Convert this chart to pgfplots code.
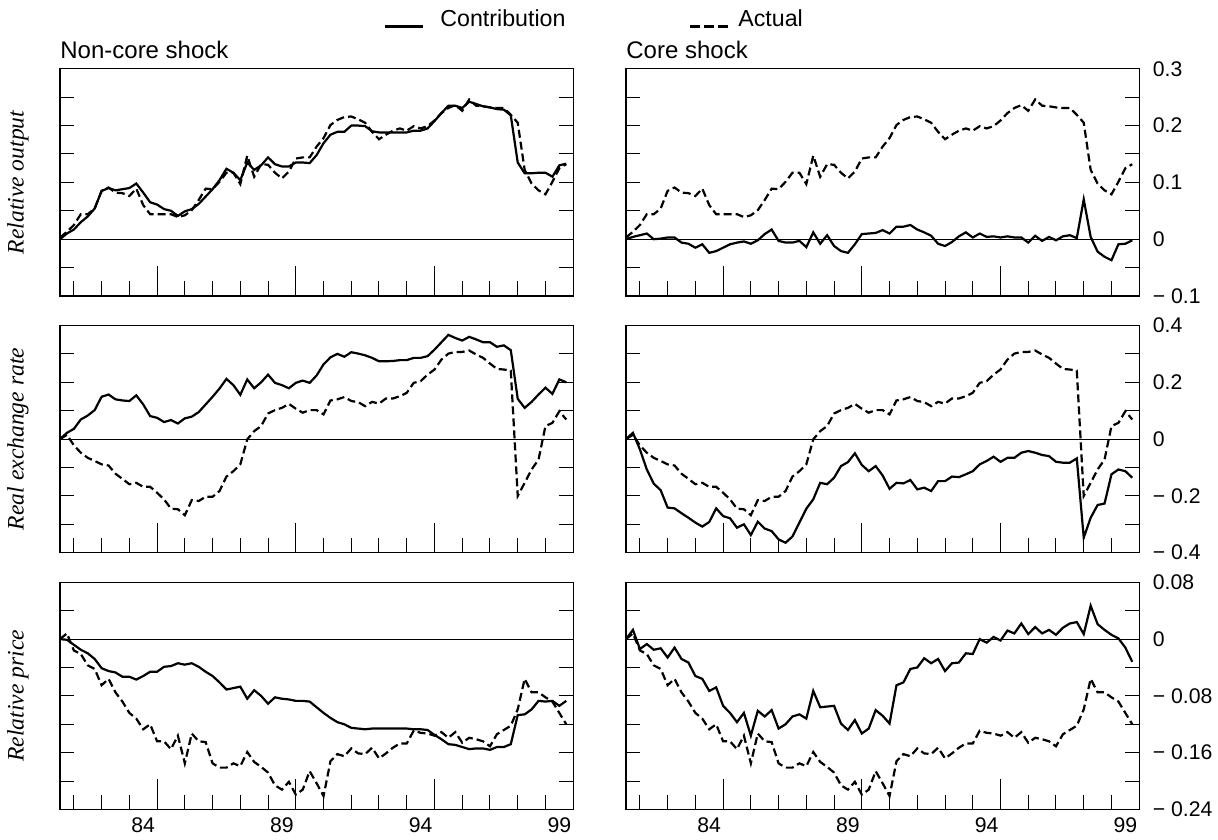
\documentclass[border=0pt]{standalone}
\usepackage{fontspec}
\setmainfont{Liberation Sans}
\newfontfamily\seriffont{Liberation Serif}
\usepackage{pgfplots}
\usepackage{pgfplotstable}
\pgfplotsset{compat=1.18}

% Relative output
\pgfplotstableread{
t nc c act
1981.50 0.000 0.000 0.003
1981.75 0.010 0.004 0.013
1982.00 0.017 0.007 0.025
1982.25 0.030 0.010 0.044
1982.50 0.040 0.000 0.044
1982.75 0.054 0.001 0.054
1983.00 0.085 0.003 0.085
1983.25 0.090 0.003 0.091
1983.50 0.086 -0.006 0.082
1983.75 0.088 -0.008 0.081
1984.00 0.090 -0.015 0.076
1984.25 0.098 -0.009 0.089
1984.50 0.082 -0.024 0.060
1984.75 0.065 -0.021 0.044
1985.00 0.061 -0.015 0.044
1985.25 0.053 -0.009 0.044
1985.50 0.050 -0.006 0.044
1985.75 0.041 -0.004 0.039
1986.00 0.049 -0.008 0.042
1986.25 0.053 -0.002 0.051
1986.50 0.062 0.009 0.069
1986.75 0.075 0.017 0.089
1987.00 0.088 -0.003 0.088
1987.25 0.104 -0.006 0.101
1987.50 0.124 -0.006 0.117
1987.75 0.117 -0.003 0.117
1988.00 0.104 -0.014 0.097
1988.25 0.135 0.012 0.147
1988.50 0.122 -0.008 0.110
1988.75 0.130 0.007 0.132
1989.00 0.144 -0.012 0.131
1989.25 0.132 -0.021 0.117
1989.50 0.128 -0.024 0.107
1989.75 0.128 -0.009 0.119
1990.00 0.135 0.009 0.142
1990.25 0.135 0.010 0.144
1990.50 0.134 0.011 0.144
1990.75 0.148 0.016 0.163
1991.00 0.169 0.010 0.178
1991.25 0.184 0.022 0.201
1991.50 0.189 0.022 0.210
1991.75 0.189 0.025 0.215
1992.00 0.200 0.017 0.216
1992.25 0.200 0.012 0.211
1992.50 0.199 0.006 0.205
1992.75 0.190 -0.008 0.189
1993.00 0.188 -0.012 0.176
1993.25 0.188 -0.005 0.184
1993.50 0.188 0.005 0.191
1993.75 0.188 0.012 0.195
1994.00 0.188 0.003 0.191
1994.25 0.191 0.010 0.199
1994.50 0.191 0.004 0.195
1994.75 0.195 0.005 0.199
1995.00 0.208 0.003 0.209
1995.25 0.222 0.005 0.222
1995.50 0.235 0.003 0.231
1995.75 0.235 0.003 0.236
1996.00 0.231 -0.006 0.226
1996.25 0.242 0.006 0.246
1996.50 0.238 -0.003 0.235
1996.75 0.234 0.004 0.234
1997.00 0.232 -0.002 0.232
1997.25 0.229 0.005 0.231
1997.50 0.228 0.007 0.231
1997.75 0.218 0.002 0.219
1998.00 0.135 0.070 0.205
1998.25 0.116 0.004 0.122
1998.50 0.116 -0.022 0.098
1998.75 0.117 -0.031 0.086
1999.00 0.117 -0.037 0.079
1999.25 0.110 -0.009 0.101
1999.50 0.130 -0.008 0.125
1999.75 0.133 -0.002 0.132
}\rowA

% Real exchange rate
\pgfplotstableread{
t nc c act
1981.50 0.000 0.000 0.000
1981.75 0.022 0.022 0.015
1982.00 0.036 -0.036 -0.022
1982.25 0.069 -0.107 -0.048
1982.50 0.083 -0.157 -0.066
1982.75 0.102 -0.180 -0.077
1983.00 0.149 -0.241 -0.089
1983.25 0.157 -0.244 -0.093
1983.50 0.140 -0.261 -0.122
1983.75 0.136 -0.277 -0.140
1984.00 0.134 -0.294 -0.159
1984.25 0.154 -0.308 -0.154
1984.50 0.122 -0.292 -0.168
1984.75 0.081 -0.244 -0.168
1985.00 0.075 -0.271 -0.189
1985.25 0.060 -0.279 -0.212
1985.50 0.067 -0.312 -0.245
1985.75 0.055 -0.300 -0.247
1986.00 0.073 -0.338 -0.268
1986.25 0.079 -0.291 -0.215
1986.50 0.095 -0.315 -0.218
1986.75 0.122 -0.324 -0.203
1987.00 0.149 -0.353 -0.203
1987.25 0.178 -0.365 -0.183
1987.50 0.212 -0.343 -0.132
1987.75 0.190 -0.294 -0.113
1988.00 0.156 -0.245 -0.089
1988.25 0.210 -0.212 -0.001
1988.50 0.179 -0.154 0.028
1988.75 0.200 -0.159 0.046
1989.00 0.227 -0.136 0.090
1989.25 0.198 -0.095 0.102
1989.50 0.190 -0.081 0.110
1989.75 0.179 -0.050 0.124
1990.00 0.198 -0.091 0.107
1990.25 0.206 -0.113 0.093
1990.50 0.198 -0.095 0.102
1990.75 0.224 -0.128 0.102
1991.00 0.263 -0.175 0.087
1991.25 0.288 -0.154 0.136
1991.50 0.300 -0.156 0.140
1991.75 0.290 -0.144 0.148
1992.00 0.306 -0.177 0.134
1992.25 0.301 -0.171 0.130
1992.50 0.295 -0.183 0.116
1992.75 0.286 -0.148 0.131
1993.00 0.274 -0.148 0.125
1993.25 0.274 -0.132 0.143
1993.50 0.275 -0.134 0.143
1993.75 0.278 -0.124 0.151
1994.00 0.278 -0.113 0.163
1994.25 0.286 -0.089 0.198
1994.50 0.286 -0.077 0.204
1994.75 0.292 -0.062 0.227
1995.00 0.315 -0.080 0.245
1995.25 0.341 -0.066 0.280
1995.50 0.367 -0.066 0.301
1995.75 0.356 -0.048 0.307
1996.00 0.347 -0.042 0.307
1996.25 0.360 -0.048 0.312
1996.50 0.351 -0.056 0.298
1996.75 0.341 -0.060 0.286
1997.00 0.341 -0.080 0.266
1997.25 0.325 -0.083 0.247
1997.50 0.330 -0.083 0.245
1997.75 0.313 -0.068 0.241
1998.00 0.142 -0.347 -0.200
1998.25 0.110 -0.277 -0.154
1998.50 0.131 -0.232 -0.107
1998.75 0.157 -0.227 -0.072
1999.00 0.181 -0.124 0.046
1999.25 0.159 -0.107 0.057
1999.50 0.210 -0.113 0.098
1999.75 0.200 -0.136 0.069
}\rowB

% Relative price
\pgfplotstableread{
t nc c act
1981.50 0.000 0.000 0.000
1981.75 -0.001 0.013 0.008
1982.00 -0.008 -0.014 -0.016
1982.25 -0.015 -0.007 -0.021
1982.50 -0.020 -0.015 -0.037
1982.75 -0.028 -0.013 -0.042
1983.00 -0.041 -0.026 -0.065
1983.25 -0.045 -0.012 -0.056
1983.50 -0.047 -0.028 -0.075
1983.75 -0.053 -0.033 -0.088
1984.00 -0.053 -0.052 -0.104
1984.25 -0.057 -0.056 -0.112
1984.50 -0.052 -0.073 -0.127
1984.75 -0.046 -0.068 -0.120
1985.00 -0.046 -0.094 -0.144
1985.25 -0.039 -0.104 -0.144
1985.50 -0.038 -0.117 -0.155
1985.75 -0.034 -0.104 -0.136
1986.00 -0.036 -0.136 -0.175
1986.25 -0.034 -0.101 -0.133
1986.50 -0.039 -0.109 -0.144
1986.75 -0.046 -0.100 -0.145
1987.00 -0.052 -0.126 -0.175
1987.25 -0.061 -0.120 -0.181
1987.50 -0.071 -0.109 -0.181
1987.75 -0.069 -0.106 -0.175
1988.00 -0.067 -0.112 -0.179
1988.25 -0.084 -0.073 -0.159
1988.50 -0.072 -0.096 -0.173
1988.75 -0.080 -0.095 -0.180
1989.00 -0.091 -0.094 -0.188
1989.25 -0.082 -0.119 -0.206
1989.50 -0.084 -0.128 -0.212
1989.75 -0.085 -0.114 -0.201
1990.00 -0.087 -0.133 -0.219
1990.25 -0.087 -0.126 -0.212
1990.50 -0.088 -0.100 -0.186
1990.75 -0.096 -0.108 -0.203
1991.00 -0.104 -0.119 -0.221
1991.25 -0.111 -0.065 -0.172
1991.50 -0.117 -0.061 -0.162
1991.75 -0.120 -0.042 -0.165
1992.00 -0.125 -0.040 -0.154
1992.25 -0.126 -0.027 -0.161
1992.50 -0.127 -0.034 -0.162
1992.75 -0.126 -0.028 -0.153
1993.00 -0.126 -0.045 -0.168
1993.25 -0.126 -0.034 -0.161
1993.50 -0.126 -0.033 -0.153
1993.75 -0.126 -0.020 -0.147
1994.00 -0.126 -0.021 -0.147
1994.25 -0.127 0.000 -0.129
1994.50 -0.127 -0.005 -0.132
1994.75 -0.128 0.003 -0.133
1995.00 -0.135 -0.002 -0.136
1995.25 -0.141 0.012 -0.131
1995.50 -0.148 0.008 -0.139
1995.75 -0.149 0.022 -0.131
1996.00 -0.152 0.007 -0.146
1996.25 -0.155 0.017 -0.139
1996.50 -0.154 0.008 -0.141
1996.75 -0.154 0.013 -0.144
1997.00 -0.156 0.006 -0.151
1997.25 -0.152 0.016 -0.134
1997.50 -0.152 0.022 -0.128
1997.75 -0.148 0.024 -0.122
1998.00 -0.107 0.007 -0.099
1998.25 -0.106 0.047 -0.056
1998.50 -0.099 0.021 -0.075
1998.75 -0.087 0.013 -0.075
1999.00 -0.088 0.006 -0.082
1999.25 -0.087 0.001 -0.088
1999.50 -0.094 -0.012 -0.104
1999.75 -0.087 -0.032 -0.120
}\rowC

\tikzset{
  solid line/.style={line width=1.1pt, black},
  dashed line/.style={line width=1.1pt, black, dash pattern=on 4pt off 2pt},
  legend dashed/.style={line width=1.1pt, black, dash pattern=on 5pt off 2pt},
  zero line/.style={line width=0.5pt, black},
}

\pgfplotsset{
  panel/.style={
    scale only axis, width=256.6pt, height=113.6pt,
    anchor=south west,
    xmin=1981.5, xmax=2000,
    axis line style={line width=0.7pt},
    tick style={line width=0.5pt, black},
    tick align=inside,
    major tick length=7.25pt,
    xtick={1982,...,1999},
    xtick pos=bottom,
    ytick pos=both,
    xticklabel=\empty,
    yticklabel=\empty,
    extra x ticks={1985,1990,1995},
    extra x tick labels={{},{},{}},
    extra x tick style={major tick length=15pt},
    xticklabel style={anchor=north, inner sep=0pt, yshift=-3.8pt, xshift=6.94pt, font=\fontsize{10.6}{12}\selectfont},
    yticklabel style={anchor=west, inner sep=0pt, xshift=6.6pt, font=\fontsize{10.6}{12}\selectfont},
    clip=true,
  },
  rightcol/.style={yticklabel pos=right},
  bottomrow/.style={xticklabels={,,84,,,,,89,,,,,94,,,,,99}},
}

\begin{document}
\begin{tikzpicture}
\path[use as bounding box] (0,0) rectangle (609pt,419.5pt);

% Row 1: Relative output
\begin{axis}[panel, at={(30pt,271.5pt)}, ymin=-0.1, ymax=0.3,
  ytick={-0.1,-0.05,0,0.05,0.1,0.15,0.2,0.25,0.3}]
\addplot[zero line] coordinates {(1981.5,0) (2000,0)};
\addplot[dashed line] table[x=t, y=act] {\rowA};
\addplot[solid line] table[x=t, y=nc] {\rowA};
\end{axis}
\begin{axis}[panel, rightcol, at={(313pt,271.5pt)}, ymin=-0.1, ymax=0.3,
  ytick={-0.1,-0.05,0,0.05,0.1,0.15,0.2,0.25,0.3},
  yticklabels={− 0.1,,0,,0.1,,0.2,,0.3}]
\addplot[zero line] coordinates {(1981.5,0) (2000,0)};
\addplot[dashed line] table[x=t, y=act] {\rowA};
\addplot[solid line] table[x=t, y=c] {\rowA};
\end{axis}

% Row 2: Real exchange rate
\begin{axis}[panel, at={(30pt,143.15pt)}, ymin=-0.4, ymax=0.4,
  ytick={-0.4,-0.3,-0.2,-0.1,0,0.1,0.2,0.3,0.4}]
\addplot[zero line] coordinates {(1981.5,0) (2000,0)};
\addplot[dashed line] table[x=t, y=act] {\rowB};
\addplot[solid line] table[x=t, y=nc] {\rowB};
\end{axis}
\begin{axis}[panel, rightcol, at={(313pt,143.15pt)}, ymin=-0.4, ymax=0.4,
  ytick={-0.4,-0.3,-0.2,-0.1,0,0.1,0.2,0.3,0.4},
  yticklabels={− 0.4,,− 0.2,,0,,0.2,,0.4}]
\addplot[zero line] coordinates {(1981.5,0) (2000,0)};
\addplot[dashed line] table[x=t, y=act] {\rowB};
\addplot[solid line] table[x=t, y=c] {\rowB};
\end{axis}

% Row 3: Relative price
\begin{axis}[panel, bottomrow, at={(30pt,14.75pt)}, ymin=-0.24, ymax=0.08,
  ytick={-0.24,-0.2,-0.16,-0.12,-0.08,-0.04,0,0.04,0.08}]
\addplot[zero line] coordinates {(1981.5,0) (2000,0)};
\addplot[dashed line] table[x=t, y=act] {\rowC};
\addplot[solid line] table[x=t, y=nc] {\rowC};
\end{axis}
\begin{axis}[panel, rightcol, bottomrow, at={(313pt,14.75pt)}, ymin=-0.24, ymax=0.08,
  ytick={-0.24,-0.2,-0.16,-0.12,-0.08,-0.04,0,0.04,0.08},
  yticklabels={− 0.24,,− 0.16,,− 0.08,,0,,0.08}]
\addplot[zero line] coordinates {(1981.5,0) (2000,0)};
\addplot[dashed line] table[x=t, y=act] {\rowC};
\addplot[solid line] table[x=t, y=c] {\rowC};
\end{axis}

% Titles
\node[anchor=base west, inner sep=0pt, font=\fontsize{12}{14}\selectfont] at (30pt,390.35pt) {Non-core shock};
\node[anchor=base west, inner sep=0pt, font=\fontsize{12}{14}\selectfont] at (313pt,390.35pt) {Core shock};

% Y labels
\node[rotate=90, font=\fontsize{11.8}{14}\seriffont\itshape] at (9pt,328.25pt) {Relative output};
\node[rotate=90, font=\fontsize{11.8}{14}\seriffont\itshape] at (9pt,200pt) {Real exchange rate};
\node[rotate=90, font=\fontsize{11.8}{14}\seriffont\itshape] at (9pt,71.55pt) {Relative price};

% Legend
\draw[solid line] (192.5pt,406.2pt) -- (211.5pt,406.2pt);
\node[anchor=base west, inner sep=0pt, font=\fontsize{11.6}{14}\selectfont] at (220pt,406.2pt) {Contribution};
\draw[legend dashed] (345pt,406.2pt) -- (364pt,406.2pt);
\node[anchor=base west, inner sep=0pt, font=\fontsize{11.6}{14}\selectfont] at (369pt,406.2pt) {Actual};
\end{tikzpicture}
\end{document}
